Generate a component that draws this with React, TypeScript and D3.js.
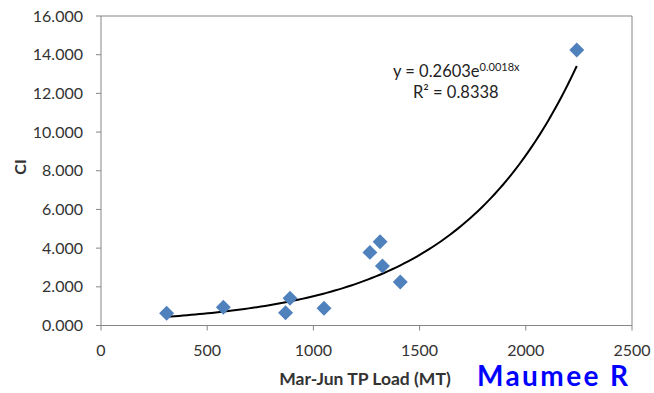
import React from "react";
import { scaleLinear, line, range, symbol, symbolSquare, format } from "d3";

// Mar-Jun TP load (MT) vs CI, Maumee R
const loads = [309, 576, 869, 890, 1050, 1266, 1314, 1325, 1409, 2240];
const ciValues = [0.63, 0.94, 0.66, 1.41, 0.89, 3.78, 4.33, 3.08, 2.25, 14.24];
const xTicks = [0, 500, 1000, 1500, 2000, 2500];
const yTicks = [0, 2, 4, 6, 8, 10, 12, 14, 16];

// exponential trendline y = a * e^(b x)
const fitA = 0.2603;
const fitB = 0.00176;

const width = 654;
const height = 393;
const margin = { top: 16, right: 22, bottom: 68, left: 101 };
const font = "Lato, 'Open Sans', sans-serif";

export default function App() {
  const x = scaleLinear().domain([0, 2500]).range([margin.left, width - margin.right]);
  const y = scaleLinear().domain([0, 16]).range([height - margin.bottom + 0.5, margin.top]);

  const xMin = Math.min(...loads);
  const xMax = Math.max(...loads);
  const trendPts = range(0, 101).map(i => xMin + (xMax - xMin) * i / 100);
  const trend = line<number>()
    .x(d => x(d))
    .y(d => y(fitA * Math.exp(fitB * d)));

  const diamond = symbol().type(symbolSquare).size(112)();
  const fmt = format(".3f");
  const axisColor = "#868686";
  const textColor = "#333";
  const x0 = margin.left;
  const x1 = width - margin.right;
  const yBottom = y(0);
  const yTop = y(16);

  return (
    <svg width={width} height={height} style={{ position: "absolute", left: 0, top: 0 }}>
      <rect width={width} height={height} fill="#fff" />

      {/* plot area border */}
      <line x1={x0} x2={x1} y1={yTop} y2={yTop} stroke={axisColor} />
      <line x1={x1} x2={x1} y1={yTop} y2={yBottom} stroke={axisColor} />

      {/* y axis */}
      <line x1={x0} x2={x0} y1={yTop} y2={yBottom} stroke={axisColor} />
      {yTicks.map(t => (
        <g key={t}>
          <line x1={x0 - 5} x2={x0} y1={y(t)} y2={y(t)} stroke={axisColor} />
          <text x={83} y={y(t)} dy="0.35em" textAnchor="end" fontSize={16} fontFamily={font} fill={textColor}>
            {fmt(t)}
          </text>
        </g>
      ))}

      {/* x axis */}
      <line x1={x0} x2={x1} y1={yBottom} y2={yBottom} stroke={axisColor} />
      {xTicks.map(t => (
        <g key={t}>
          <line x1={x(t)} x2={x(t)} y1={yBottom} y2={yBottom + 5} stroke={axisColor} />
          <text x={x(t)} y={356} textAnchor="middle" fontSize={16} fontFamily={font} fill={textColor}>
            {t}
          </text>
        </g>
      ))}

      {/* axis titles */}
      <text x={365} y={385} textAnchor="middle" fontSize={17.5} fontWeight="bold" fontFamily={font} fill={textColor}>
        Mar-Jun TP Load (MT)
      </text>
      <text transform="translate(26,167) rotate(-90)" textAnchor="middle" fontSize={16} fontWeight="bold" fontFamily={font} fill={textColor}>
        CI
      </text>

      {/* trendline */}
      <path d={trend(trendPts) ?? ""} fill="none" stroke="#000" strokeWidth={2} />

      {/* points */}
      {loads.map((d, i) => (
        <path
          key={i}
          d={diamond ?? ""}
          transform={`translate(${x(d)},${y(ciValues[i])}) rotate(45)`}
          fill="#4F81BD"
        />
      ))}

      {/* equation */}
      <text x={393} y={77} fontSize={16.5} fontFamily={font} fill="#222">
        y = 0.2603e<tspan dy={-6} fontSize={11}>0.0018x</tspan>
      </text>
      <text x={413} y={98} fontSize={16.5} fontFamily={font} fill="#222">
        R² = 0.8338
      </text>

      <text x={477} y={386} fontSize={28} letterSpacing={2.4} fontWeight="bold" fontFamily={font} fill="#0000FF">
        Maumee R
      </text>
    </svg>
  );
}
